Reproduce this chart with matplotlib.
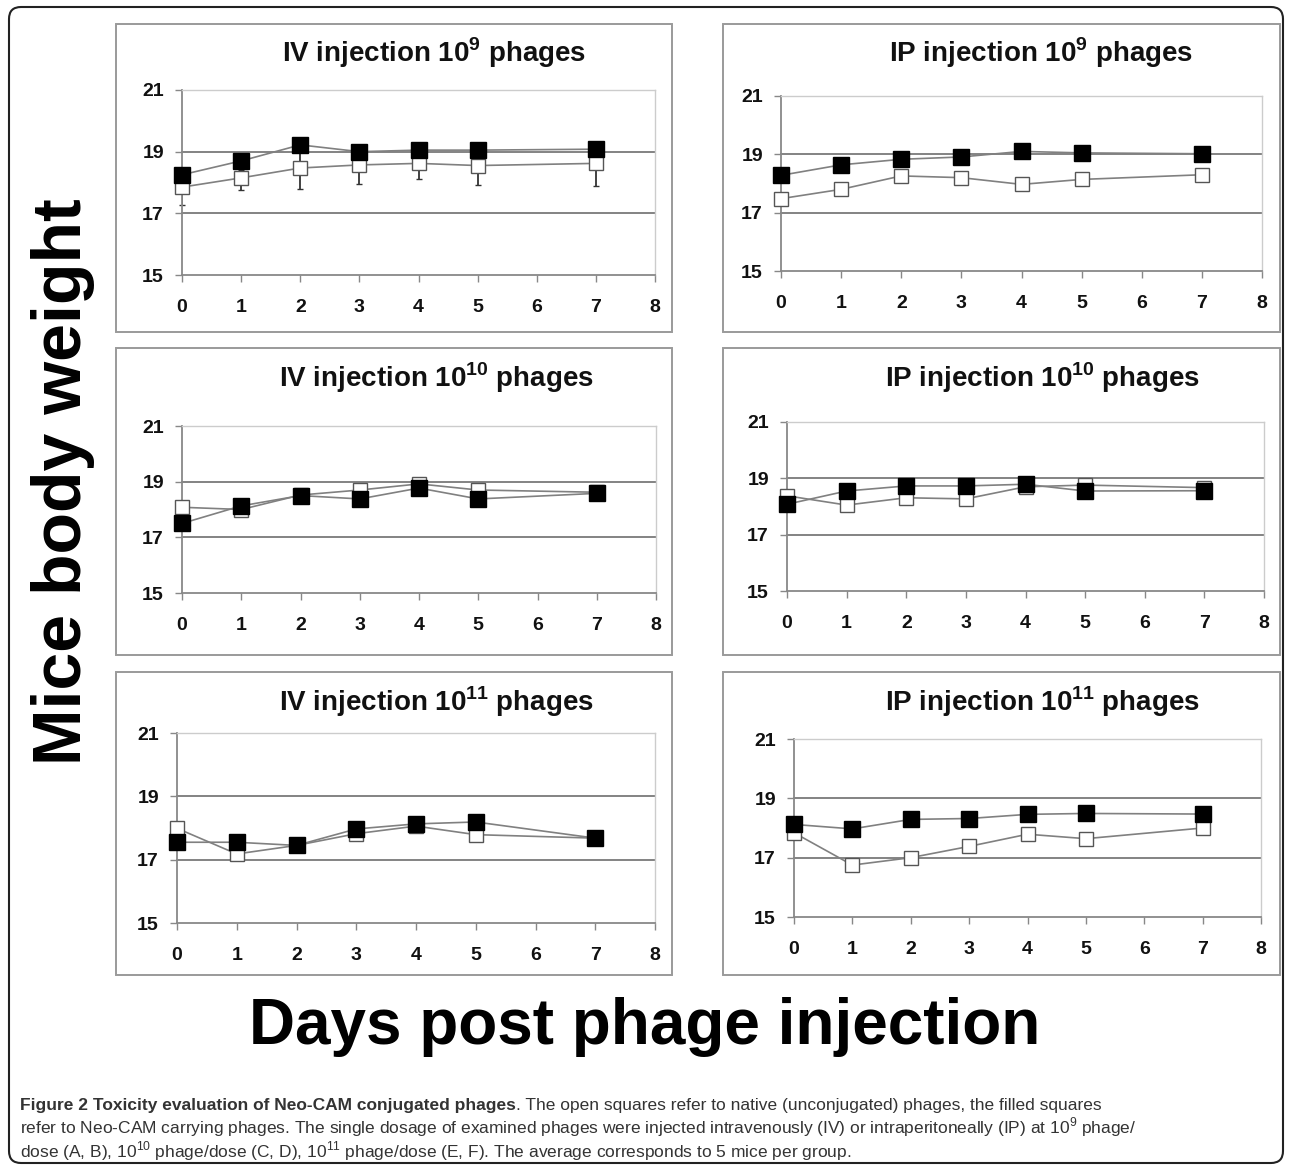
import numpy as np
import matplotlib.pyplot as plt
from matplotlib.patches import Rectangle, FancyBboxPatch
from matplotlib.transforms import IdentityTransform

plt.rcParams['font.family'] = ['Liberation Sans', 'DejaVu Sans']
plt.rcParams['mathtext.fontset'] = 'custom'
plt.rcParams['mathtext.rm'] = 'Liberation Sans'
plt.rcParams['mathtext.bf'] = 'Liberation Sans:bold'

W, H = 1290, 1167

## data ##
days = [0, 1, 2, 3, 4, 5, 7]

# A: IV 10^9
iv9_open = [17.85, 18.15, 18.47, 18.57, 18.62, 18.55, 18.62]
iv9_filled = [18.25, 18.70, 19.22, 19.00, 19.05, 19.05, 19.08]
iv9_open_err = [0.57, 0.40, 0.67, 0.62, 0.52, 0.62, 0.72]
iv9_filled_err = [0.30, 0.30, 0.60, 0.30, 0.35, 0.30, 0.40]

# B: IP 10^9
ip9_open = [17.48, 17.80, 18.26, 18.20, 17.97, 18.14, 18.30]
ip9_filled = [18.28, 18.64, 18.83, 18.91, 19.10, 19.05, 19.02]

# C: IV 10^10
iv10_open = [18.08, 18.00, 18.52, 18.70, 18.92, 18.70, 18.62]
iv10_filled = [17.50, 18.13, 18.50, 18.38, 18.77, 18.38, 18.58]

# D: IP 10^10
ip10_open = [18.38, 18.05, 18.31, 18.27, 18.70, 18.76, 18.67]
ip10_filled = [18.08, 18.55, 18.73, 18.73, 18.79, 18.55, 18.56]

# E: IV 10^11
iv11_open = [17.99, 17.18, 17.45, 17.82, 18.06, 17.79, 17.68]
iv11_filled = [17.55, 17.55, 17.45, 17.97, 18.13, 18.19, 17.68]

# F: IP 10^11
ip11_open = [17.84, 16.75, 17.00, 17.38, 17.79, 17.64, 18.00]
ip11_filled = [18.12, 17.97, 18.29, 18.32, 18.46, 18.49, 18.47]

titles = [r'IV injection 10$^{\mathbf{9}}$ phages', r'IP injection 10$^{\mathbf{9}}$ phages',
          r'IV injection 10$^{\mathbf{10}}$ phages', r'IP injection 10$^{\mathbf{10}}$ phages',
          r'IV injection 10$^{\mathbf{11}}$ phages', r'IP injection 10$^{\mathbf{11}}$ phages']
x_ticks = [0, 1, 2, 3, 4, 5, 6, 7, 8]
y_ticks = [15, 17, 19, 21]

## layout in pixels: box (x0,y0,x1,y1), axes (x0,y0,x1,y1), title centre ##
panels = [
    (iv9_open, iv9_filled, (116, 24, 672, 332), (182, 90, 655, 275), (434, 53)),
    (ip9_open, ip9_filled, (723, 24, 1280, 332), (781, 96, 1262, 271), (1041, 53)),
    (iv10_open, iv10_filled, (116, 348, 672, 655), (182, 426, 656, 593), (436, 378)),
    (ip10_open, ip10_filled, (723, 348, 1280, 655), (787, 422, 1264, 591), (1042, 378)),
    (iv11_open, iv11_filled, (116, 672, 672, 975), (177, 733, 655, 923), (436, 702)),
    (ip11_open, ip11_filled, (723, 672, 1280, 975), (794, 739, 1261, 917), (1042, 702)),
]

fig = plt.figure(figsize=(W/100, H/100), dpi=100)

def frac_rect(x0, y0, x1, y1):
    return [x0/W, 1 - y1/H, (x1 - x0)/W, (y1 - y0)/H]

# outer rounded frame
fig.add_artist(FancyBboxPatch((9, H - 1163), 1274, 1156, boxstyle='round,pad=0,rounding_size=12',
                              fill=False, edgecolor='#222222', lw=1.5, transform=IdentityTransform()))

for i, (op, fl, box, axpx, tpos) in enumerate(panels):
    bx0, by0, bx1, by1 = box
    fig.add_artist(Rectangle((bx0/W, 1 - by1/H), (bx1 - bx0)/W, (by1 - by0)/H, fill=False,
                             edgecolor='#9a9a9a', lw=1.4, transform=fig.transFigure))
    fig.text(tpos[0]/W, 1 - tpos[1]/H, titles[i], fontsize=20, fontweight='bold',
             ha='center', va='center', color='#111111')

    ax = fig.add_axes(frac_rect(*axpx))
    ax.set_xlim(0, 8)
    ax.set_ylim(15, 21)
    for y in [17, 19]:
        ax.axhline(y, color='#7a7a7a', lw=1.3, zorder=1)
    if i == 0:
        ax.errorbar(days, fl, yerr=[iv9_filled_err, np.zeros(len(days))], fmt='none',
                    ecolor='#333333', elinewidth=1.3, capsize=2.5, zorder=2)
        ax.errorbar(days, op, yerr=[iv9_open_err, np.zeros(len(days))], fmt='none',
                    ecolor='#333333', elinewidth=1.3, capsize=2.5, zorder=2)
    ax.plot(days, op, '-', color='#808080', lw=1.2, marker='s', markersize=10,
            markerfacecolor='white', markeredgecolor='#555555', markeredgewidth=1.0, zorder=3)
    ax.plot(days, fl, '-', color='#808080', lw=1.2, marker='s', markersize=12,
            markerfacecolor='black', markeredgecolor='black', zorder=4)

    ax.set_xticks(x_ticks)
    ax.set_yticks(y_ticks)
    ax.tick_params(axis='x', direction='out', length=5, width=1, color='#888888',
                   labelsize=14, pad=12, labelcolor='#111111')
    ax.tick_params(axis='y', direction='out', length=5, width=1, color='#888888',
                   labelsize=14, pad=8, labelcolor='#111111')
    for lab in ax.get_xticklabels() + ax.get_yticklabels():
        lab.set_fontweight('bold')
    for s in ['left', 'bottom']:
        ax.spines[s].set_color('#888888')
        ax.spines[s].set_linewidth(1.3)
    for s in ['top', 'right']:
        ax.spines[s].set_color('#cccccc')
        ax.spines[s].set_linewidth(1.0)
    for a in ax.lines:
        a.set_clip_on(False)

# axis titles shared by all panels
fig.text(63/W, 1 - 482/H, 'Mice body weight', rotation=90, fontsize=49, fontweight='bold',
         ha='center', va='center', color='black')
fig.text(645/W, 1 - 1027/H, 'Days post phage injection', fontsize=46, fontweight='bold',
         ha='center', va='center', color='black')

# caption
cap_col = '#333333'
cap_size = 12.5
bold = fig.text(20/W, 1 - 1110/H, 'Figure 2 Toxicity evaluation of Neo-CAM conjugated phages',
                fontsize=cap_size, fontweight='bold', ha='left', va='baseline', color=cap_col)
fig.canvas.draw()
plt.annotate('. The open squares refer to native (unconjugated) phages, the filled squares',
             xy=(1, 0), xycoords=bold, xytext=(0, 0), textcoords='offset points',
             fontsize=cap_size, ha='left', va='bottom', color=cap_col, annotation_clip=False)
fig.text(20/W, 1 - 1133/H,
         'refer to Neo-CAM carrying phages. The single dosage of examined phages were injected '
         'intravenously (IV) or intraperitoneally (IP) at 10$^{9}$ phage/',
         fontsize=cap_size, ha='left', va='baseline', color=cap_col)
fig.text(20/W, 1 - 1157/H,
         'dose (A, B), 10$^{10}$ phage/dose (C, D), 10$^{11}$ phage/dose (E, F). '
         'The average corresponds to 5 mice per group.',
         fontsize=cap_size, ha='left', va='baseline', color=cap_col)

fig.savefig('out.png', dpi=100)
